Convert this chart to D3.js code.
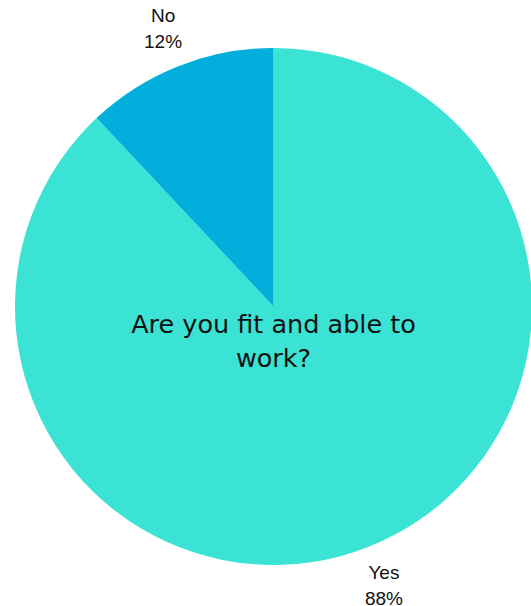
<!DOCTYPE html>
<html>
<head>
<meta charset="utf-8">
<script src="https://cdn.jsdelivr.net/npm/d3@7"></script>
<style>
  html, body { margin: 0; padding: 0; background: #ffffff; }
  svg { display: block; }
</style>
</head>
<body>
<svg id="chart" width="531" height="606"></svg>
<script>
// Survey answers and their shares (percent)
const answers = ["Yes", "No"];
const shares = [88, 12];
const sliceColors = ["#3be3d5", "#02afdc"];
const titleLines = ["Are you fit and able to", "work?"];

const svg = d3.select("#chart");
const cx = 273.5, cy = 306.5, radius = 258.5, labelRadius = 300;

const data = answers.map((a, i) => ({ answer: a, share: shares[i] }));

const color = d3.scaleOrdinal().domain(answers).range(sliceColors);

const pie = d3.pie().sort(null).value(d => d.share);
const arcs = pie(data);

const arc = d3.arc().innerRadius(0).outerRadius(radius);
const labelArc = d3.arc().innerRadius(labelRadius).outerRadius(labelRadius);

const g = svg.append("g").attr("transform", `translate(${cx},${cy})`);

g.selectAll("path.slice")
  .data(arcs)
  .join("path")
  .attr("class", "slice")
  .attr("d", arc)
  .attr("fill", d => color(d.data.answer));

// Outside labels: answer name above its percentage
const labels = g.selectAll("g.label")
  .data(arcs)
  .join("g")
  .attr("class", "label")
  .attr("transform", d => `translate(${labelArc.centroid(d)})`);

labels.append("text")
  .attr("text-anchor", "middle")
  .attr("y", -6)
  .style("font-family", "'Liberation Sans', Arial, sans-serif")
  .style("font-size", "19px")
  .attr("fill", "#111")
  .text(d => d.data.answer);

labels.append("text")
  .attr("text-anchor", "middle")
  .attr("y", 20)
  .style("font-family", "'Liberation Sans', Arial, sans-serif")
  .style("font-size", "19px")
  .attr("fill", "#111")
  .text(d => d.data.share + "%");

// Question in the middle of the pie
const title = g.append("text")
  .attr("text-anchor", "middle")
  .style("font-family", "'DejaVu Sans', sans-serif")
  .style("font-size", "25.5px")
  .attr("fill", "#111");

title.selectAll("tspan")
  .data(titleLines)
  .join("tspan")
  .attr("x", 0)
  .attr("y", (d, i) => 26.5 + i * 34)
  .text(d => d);
</script>
</body>
</html>
